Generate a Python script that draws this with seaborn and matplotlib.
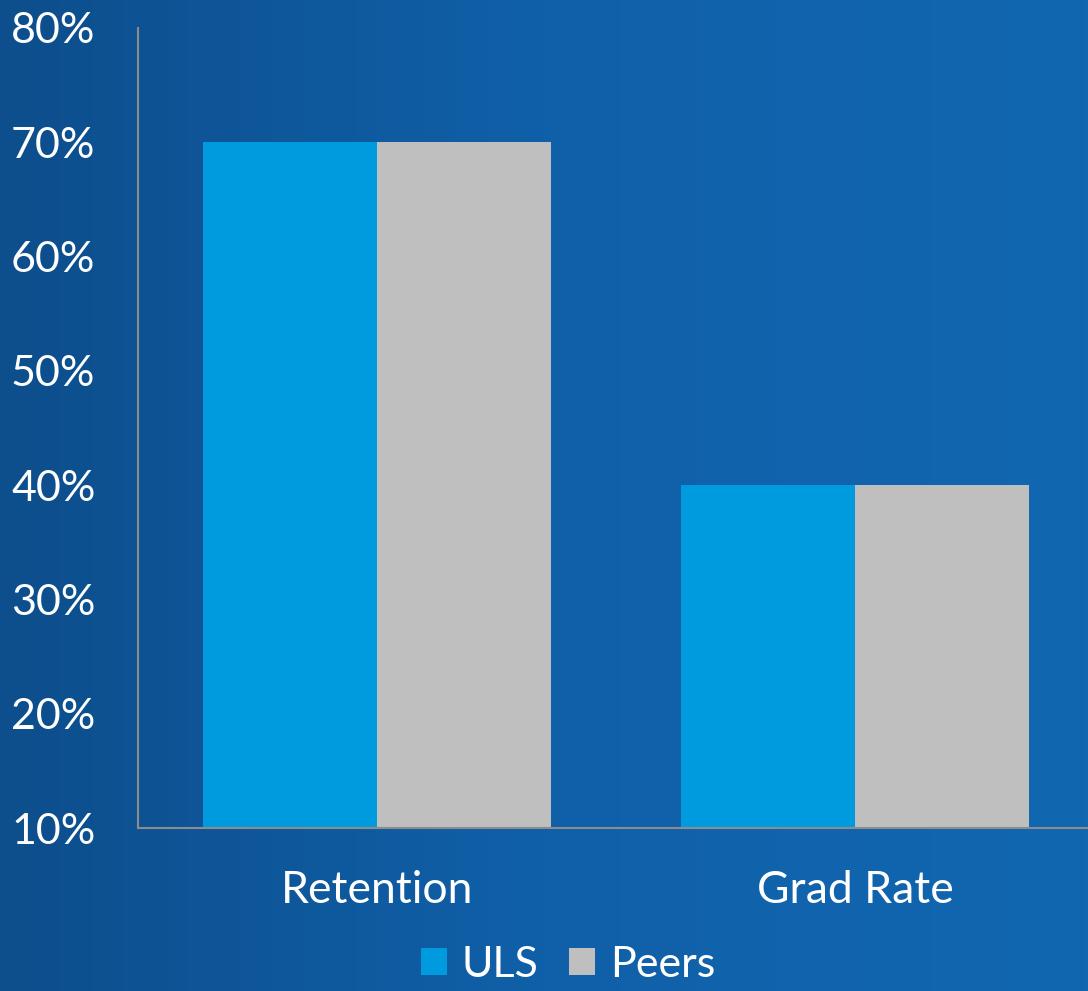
import numpy as np
import pandas as pd
import seaborn as sns
import matplotlib.pyplot as plt
from matplotlib.colors import LinearSegmentedColormap

categories = ["Retention", "Grad Rate"]
uls = [70, 40]
peers = [70, 40]
series = ["ULS", "Peers"]
y_ticks = [10, 20, 30, 40, 50, 60, 70, 80]

df = pd.DataFrame({
    "category": categories * 2,
    "group": ["ULS"] * len(categories) + ["Peers"] * len(categories),
    "value": uls + peers,
})

sns.set_style("white")
plt.rcParams['font.family'] = ['Lato', 'DejaVu Sans']

fig = plt.figure(figsize=(10.88, 9.91), dpi=100)

# background gradient
bg = fig.add_axes([0, 0, 1, 1], zorder=-2)
grad_cmap = LinearSegmentedColormap.from_list("bg", ["#0d4e8c", "#1060a9", "#1167b0"])
bg.imshow(np.linspace(0, 1, 256).reshape(1, -1), aspect="auto", cmap=grad_cmap, extent=[0, 1, 0, 1])
bg.axis("off")

ax = fig.add_axes([138 / 1088, 1 - 828 / 991, 1 - 138 / 1088, (828 - 28) / 991])
ax.patch.set_alpha(0)

sns.barplot(data=df, x="category", y="value", hue="group", hue_order=series,
            palette={"ULS": "#009bdf", "Peers": "#bfbfbf"}, width=0.728,
            saturation=1, linewidth=0, ax=ax, legend=True)

ax.set_ylim(10, 80)
ax.set_xlim(-0.5, -0.5 + (1088 - 138) / 478)
ax.set_yticks(y_ticks)
ax.set_yticklabels([f"{t}%" for t in y_ticks])
ax.set_xlabel("")
ax.set_ylabel("")
ax.tick_params(axis="y", length=0, pad=0, labelsize=31, labelcolor="white")
ax.tick_params(axis="x", length=0, pad=30, labelsize=32, labelcolor="white")
for lbl in ax.get_yticklabels():
    lbl.set_horizontalalignment("left")
    lbl.set_x(-127 / 950)

for s in ["top", "right"]:
    ax.spines[s].set_visible(False)
for s in ["left", "bottom"]:
    ax.spines[s].set_color("#8c8c8c")
    ax.spines[s].set_linewidth(1.5)

handles, labels = ax.get_legend_handles_labels()
ax.get_legend().remove()
for h in handles:
    h.set_edgecolor("none")
fig.legend(handles, labels, loc="lower center", bbox_to_anchor=(0.522, -0.032), ncol=2,
           frameon=False, fontsize=31, labelcolor="white", handlelength=0.6,
           handleheight=0.6, handletextpad=0.35, columnspacing=0.7)

fig.savefig("out.png", dpi=100)
